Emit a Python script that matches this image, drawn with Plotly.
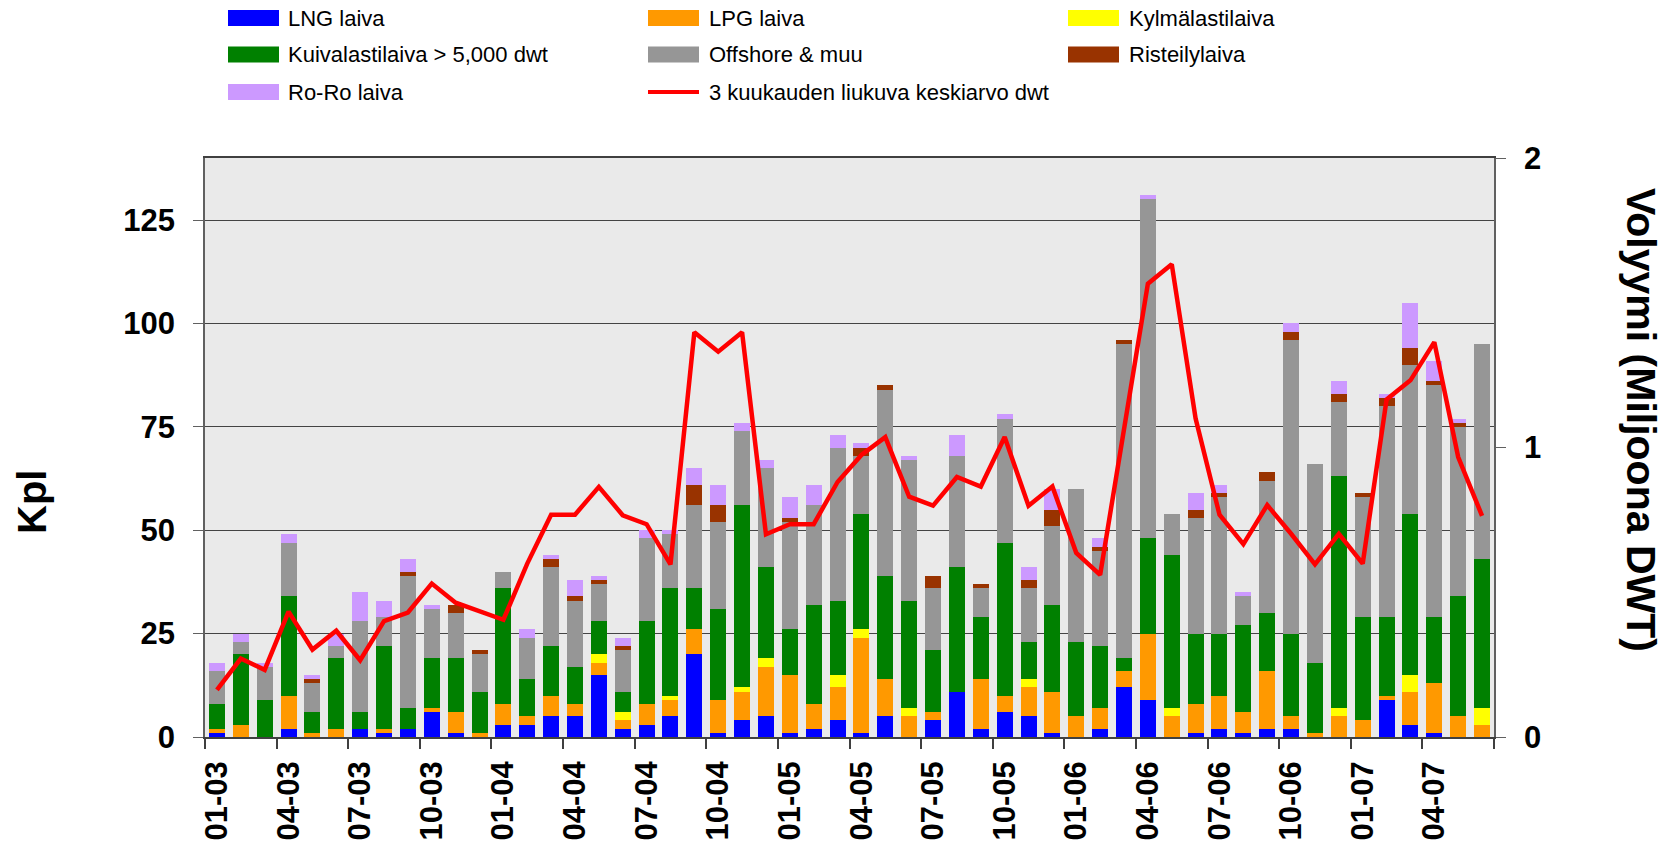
import plotly.graph_objects as go

# ---------------- data ----------------
months = ["01-03", "02-03", "03-03", "04-03", "05-03", "06-03", "07-03", "08-03", "09-03", "10-03", "11-03", "12-03",
          "01-04", "02-04", "03-04", "04-04", "05-04", "06-04", "07-04", "08-04", "09-04", "10-04", "11-04", "12-04",
          "01-05", "02-05", "03-05", "04-05", "05-05", "06-05", "07-05", "08-05", "09-05", "10-05", "11-05", "12-05",
          "01-06", "02-06", "03-06", "04-06", "05-06", "06-06", "07-06", "08-06", "09-06", "10-06", "11-06", "12-06",
          "01-07", "02-07", "03-07", "04-07", "05-07", "06-07"]

lng = [1, 0, 0, 2, 0, 0, 2, 1, 2, 6, 1, 0,
       3, 3, 5, 5, 15, 2, 3, 5, 20, 1, 4, 5,
       1, 2, 4, 1, 5, 0, 4, 11, 2, 6, 5, 1,
       0, 2, 12, 9, 0, 1, 2, 1, 2, 2, 0, 0,
       0, 9, 3, 1, 0, 0]
lpg = [1, 3, 0, 8, 1, 2, 0, 1, 0, 1, 5, 1,
       5, 2, 5, 3, 3, 2, 5, 4, 6, 8, 7, 12,
       14, 6, 8, 23, 9, 5, 2, 0, 12, 4, 7, 10,
       5, 5, 4, 16, 5, 7, 8, 5, 14, 3, 1, 5,
       4, 1, 8, 12, 5, 3]
kylma = [0, 0, 0, 0, 0, 0, 0, 0, 0, 0, 0, 0,
         0, 0, 0, 0, 2, 2, 0, 1, 0, 0, 1, 2,
         0, 0, 3, 2, 0, 2, 0, 0, 0, 0, 2, 0,
         0, 0, 0, 0, 2, 0, 0, 0, 0, 0, 0, 2,
         0, 0, 4, 0, 0, 4]
kuiva = [6, 17, 9, 24, 5, 17, 4, 20, 5, 12, 13, 10,
         28, 9, 12, 9, 8, 5, 20, 26, 10, 22, 44, 22,
         11, 24, 18, 28, 25, 26, 15, 30, 15, 37, 9, 21,
         18, 15, 3, 23, 37, 17, 15, 21, 14, 20, 17, 56,
         25, 19, 39, 16, 29, 36]
offshore = [8, 3, 8, 13, 7, 3, 22, 7, 32, 12, 11, 9,
            4, 10, 19, 16, 9, 10, 20, 13, 20, 21, 18, 24,
            26, 24, 37, 14, 45, 34, 15, 27, 7, 30, 13, 19,
            37, 23, 76, 82, 10, 28, 33, 7, 32, 71, 48, 18,
            29, 51, 36, 56, 41, 52]
risteily = [0, 0, 0, 0, 1, 0, 0, 0, 1, 0, 2, 1,
            0, 0, 2, 1, 1, 1, 0, 0, 5, 4, 0, 0,
            1, 0, 0, 2, 1, 0, 3, 0, 1, 0, 2, 4,
            0, 1, 1, 0, 0, 2, 1, 0, 2, 2, 0, 2,
            1, 2, 4, 1, 1, 0]
roro = [2, 2, 1, 2, 1, 3, 7, 4, 3, 1, 0, 0,
        0, 2, 1, 4, 1, 2, 2, 1, 4, 5, 2, 2,
        5, 5, 3, 1, 0, 1, 0, 5, 0, 1, 3, 5,
        0, 2, 0, 1, 0, 4, 2, 1, 0, 2, 0, 3,
        0, 1, 11, 5, 1, 0]
dwt_avg = [0.163, 0.271, 0.232, 0.433, 0.302, 0.367, 0.265, 0.400, 0.430, 0.530, 0.464, 0.435,
           0.405, 0.599, 0.768, 0.768, 0.864, 0.766, 0.735, 0.596, 1.398, 1.331, 1.398, 0.700,
           0.735, 0.735, 0.881, 0.974, 1.036, 0.830, 0.799, 0.898, 0.865, 1.036, 0.799, 0.865,
           0.636, 0.560, 1.064, 1.566, 1.633, 1.100, 0.768, 0.666, 0.801, 0.702, 0.596, 0.702,
           0.599, 1.166, 1.232, 1.364, 0.967, 0.764]

bar_series = [
    ("LNG laiva", lng, "#0000FF"),
    ("LPG laiva", lpg, "#FF9900"),
    ("Kylmälastilaiva", kylma, "#FFFF00"),
    ("Kuivalastilaiva > 5,000 dwt", kuiva, "#008000"),
    ("Offshore & muu", offshore, "#969696"),
    ("Risteilylaiva", risteily, "#993300"),
    ("Ro-Ro laiva", roro, "#CC99FF"),
]
line_name = "3 kuukauden liukuva keskiarvo dwt"
left_ticks = [0, 25, 50, 75, 100, 125]
right_ticks = [0, 1, 2]

# ---------------- layout geometry ----------------
W, H = 1676, 844
L, R, T, B = 205, 182, 158, 107
PW = W - L - R
PH = H - T - B
FONT = "Liberation Sans, Arial, sans-serif"


def px_x(px):
    return (px - L) / PW


def px_y(py):
    return (H - B - py) / PH


fig = go.Figure()
for name, vals, col in bar_series:
    fig.add_trace(go.Bar(x=months, y=vals, name=name, marker=dict(color=col, line=dict(width=0)),
                         showlegend=False))
fig.add_trace(go.Scatter(x=months, y=dwt_avg, name=line_name, mode="lines", yaxis="y2",
                         line=dict(color="#FF0000", width=4.5), showlegend=False))

# ---------------- custom legend ----------------
legend_items = [name for name, _, _ in bar_series] + [line_name]
legend_colors = [col for _, _, col in bar_series] + ["#FF0000"]
col_sw = [228, 648, 1068]
col_tx = [286, 707, 1127]
row_y = [18, 54.5, 92]
shapes = []
annotations = []
for i, (name, col) in enumerate(zip(legend_items, legend_colors)):
    r, c = divmod(i, 3)
    yc = row_y[r]
    if name == line_name:
        shapes.append(dict(type="line", xref="paper", yref="paper",
                           x0=px_x(col_sw[c]), x1=px_x(col_sw[c] + 51), y0=px_y(yc), y1=px_y(yc),
                           line=dict(color=col, width=4)))
    else:
        shapes.append(dict(type="rect", xref="paper", yref="paper",
                           x0=px_x(col_sw[c]), x1=px_x(col_sw[c] + 51),
                           y0=px_y(yc - 8), y1=px_y(yc + 8),
                           fillcolor=col, line=dict(width=0)))
    annotations.append(dict(xref="paper", yref="paper", x=px_x(col_tx[c]), y=px_y(yc),
                            xanchor="left", yanchor="middle", showarrow=False, text=name,
                            font=dict(family=FONT, size=22, color="black")))

# axis titles
annotations.append(dict(xref="paper", yref="paper", x=px_x(32), y=px_y(502), text="Kpl",
                        textangle=-90, showarrow=False, xanchor="center", yanchor="middle",
                        font=dict(family=FONT, size=40, color="black", weight="bold")))
annotations.append(dict(xref="paper", yref="paper", x=px_x(1641), y=px_y(420),
                        text="Volyymi (Miljoona DWT)",
                        textangle=90, showarrow=False, xanchor="center", yanchor="middle",
                        font=dict(family=FONT, size=41, color="black", weight="bold")))

tickfont = dict(family=FONT, size=31, color="black", weight="bold")

fig.update_layout(
    width=W, height=H,
    margin=dict(l=L, r=R, t=T, b=B, pad=0),
    barmode="stack", bargap=0.33,
    plot_bgcolor="#EAEAEA", paper_bgcolor="white",
    shapes=shapes, annotations=annotations,
    showlegend=False,
    xaxis=dict(type="category", range=[-0.5, len(months) - 0.5], tickmode="linear", tick0=0, dtick=3,
               tickangle=-90, tickfont=tickfont, ticks="outside", ticklen=10, tickwidth=1.5,
               tickcolor="#404040", tickson="boundaries", showgrid=False, showline=True,
               linecolor="#404040", linewidth=1.5, mirror=True, automargin=False, ticklabelstandoff=10),
    yaxis=dict(range=[0, 140], tickmode="array", tickvals=left_ticks, tickfont=tickfont,
               ticks="outside", ticklen=10, tickcolor="#606060", showgrid=True, gridcolor="#444444",
               gridwidth=1, zeroline=False, showline=True, linecolor="#606060", linewidth=1.5,
               automargin=False, ticklabelstandoff=12),
    yaxis2=dict(range=[0, 2], overlaying="y", side="right", tickmode="array", tickvals=right_ticks,
                tickfont=tickfont, ticks="outside", ticklen=10, tickcolor="#606060", showgrid=False,
                zeroline=False, showline=True, linecolor="#606060", linewidth=1.5, automargin=False,
                ticklabelstandoff=12),
)

fig.write_html("out.html", config={"displayModeBar": False},
               post_script="document.body.style.margin='0';")
